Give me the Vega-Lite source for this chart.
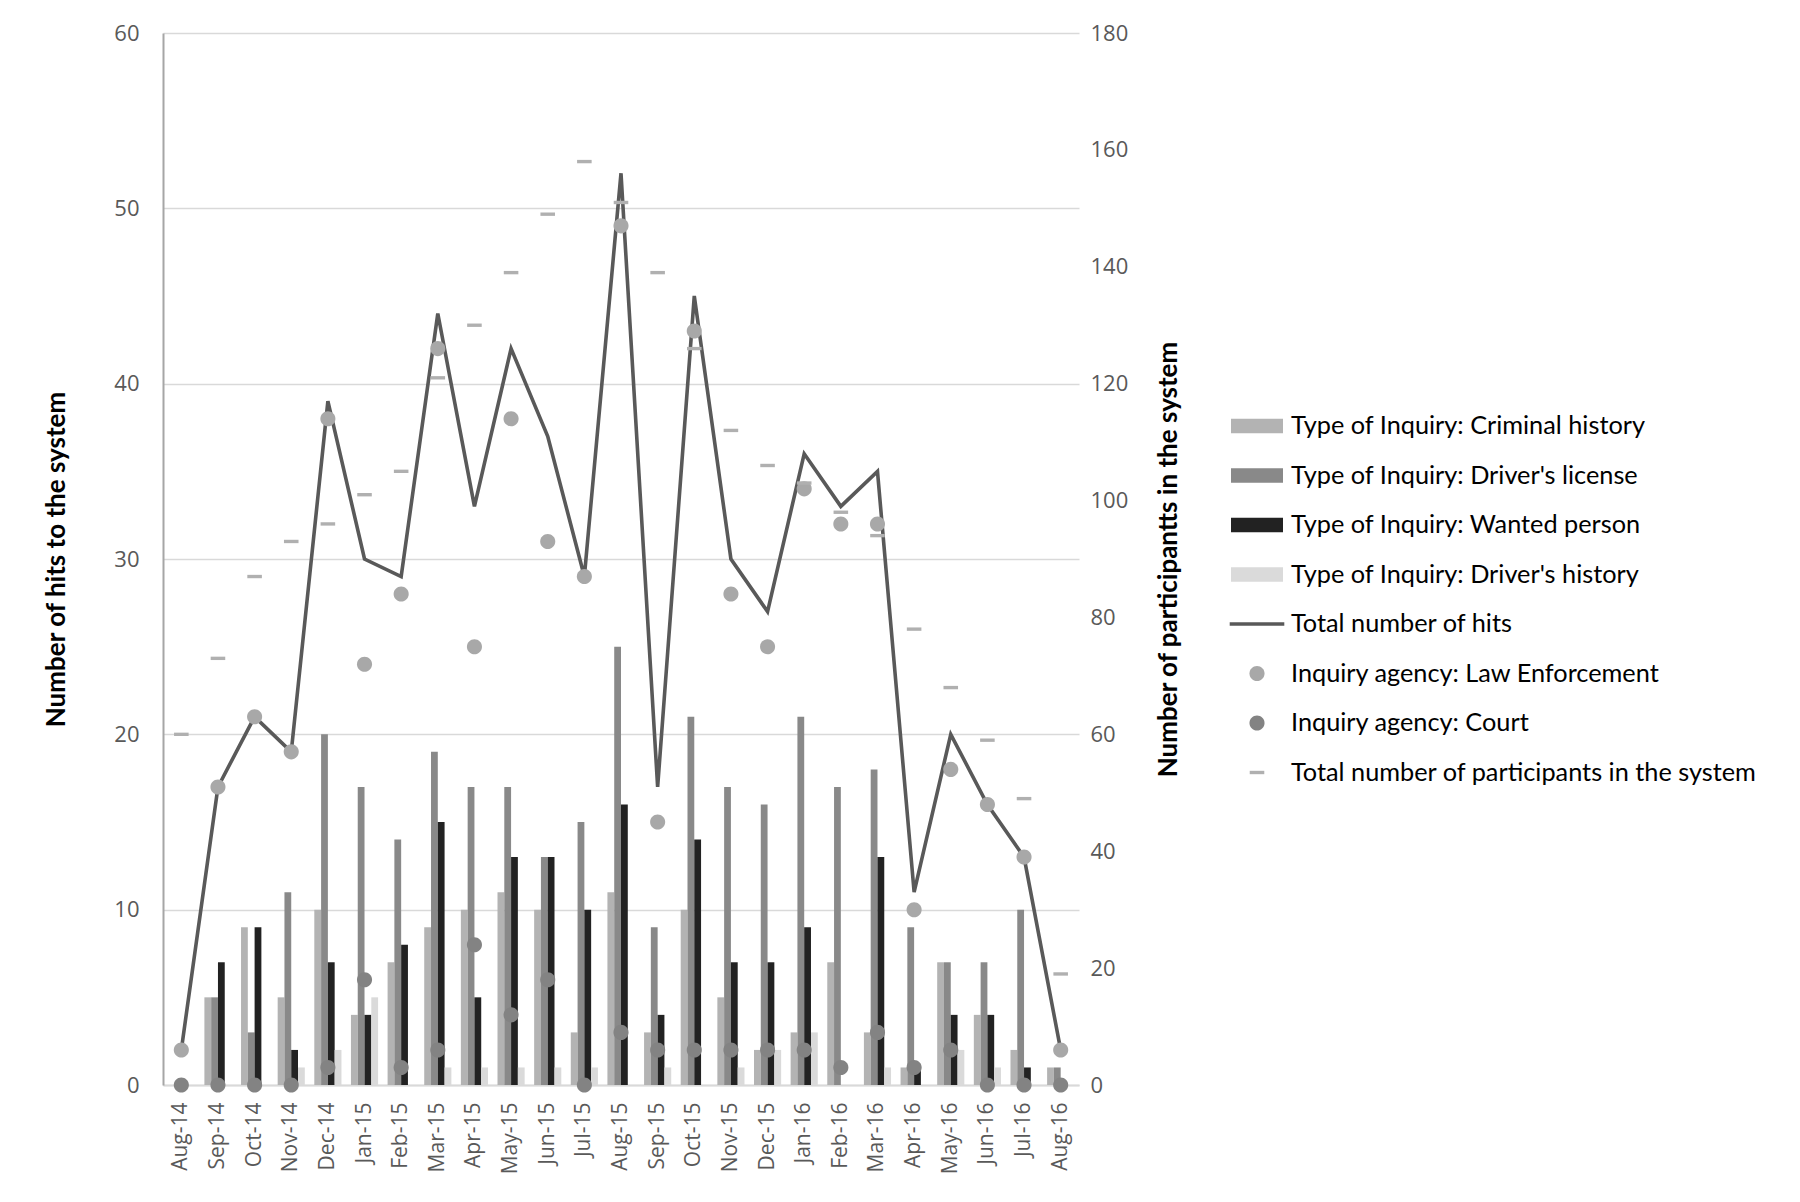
{
  "$schema": "https://vega.github.io/schema/vega-lite/v6.json",
  "autosize": {"type": "none"},
  "width": 916,
  "height": 1052,
  "padding": {"left": 163, "top": 33, "right": 721, "bottom": 117},
  "background": "white",
  "config": {
    "view": {"stroke": null},
    "font": "Open Sans",
    "axis": {"labelFont": "Open Sans", "labelColor": "#595959", "labelFontSize": 22, "titleFont": "Lato", "titleFontWeight": "bold", "titleColor": "#000000", "titleFontSize": 26, "ticks": false}
  },
  "data": {"values": [
    {"month": "Aug-14", "CH": 0, "DL": 0, "WP": 0, "DH": 0, "TH": 2, "LE": 2, "CO": 0, "TP": 60},
    {"month": "Sep-14", "CH": 5, "DL": 5, "WP": 7, "DH": 0, "TH": 17, "LE": 17, "CO": 0, "TP": 73},
    {"month": "Oct-14", "CH": 9, "DL": 3, "WP": 9, "DH": 0, "TH": 21, "LE": 21, "CO": 0, "TP": 87},
    {"month": "Nov-14", "CH": 5, "DL": 11, "WP": 2, "DH": 1, "TH": 19, "LE": 19, "CO": 0, "TP": 93},
    {"month": "Dec-14", "CH": 10, "DL": 20, "WP": 7, "DH": 2, "TH": 39, "LE": 38, "CO": 1, "TP": 96},
    {"month": "Jan-15", "CH": 4, "DL": 17, "WP": 4, "DH": 5, "TH": 30, "LE": 24, "CO": 6, "TP": 101},
    {"month": "Feb-15", "CH": 7, "DL": 14, "WP": 8, "DH": 0, "TH": 29, "LE": 28, "CO": 1, "TP": 105},
    {"month": "Mar-15", "CH": 9, "DL": 19, "WP": 15, "DH": 1, "TH": 44, "LE": 42, "CO": 2, "TP": 121},
    {"month": "Apr-15", "CH": 10, "DL": 17, "WP": 5, "DH": 1, "TH": 33, "LE": 25, "CO": 8, "TP": 130},
    {"month": "May-15", "CH": 11, "DL": 17, "WP": 13, "DH": 1, "TH": 42, "LE": 38, "CO": 4, "TP": 139},
    {"month": "Jun-15", "CH": 10, "DL": 13, "WP": 13, "DH": 1, "TH": 37, "LE": 31, "CO": 6, "TP": 149},
    {"month": "Jul-15", "CH": 3, "DL": 15, "WP": 10, "DH": 1, "TH": 29, "LE": 29, "CO": 0, "TP": 158},
    {"month": "Aug-15", "CH": 11, "DL": 25, "WP": 16, "DH": 0, "TH": 52, "LE": 49, "CO": 3, "TP": 151},
    {"month": "Sep-15", "CH": 3, "DL": 9, "WP": 4, "DH": 1, "TH": 17, "LE": 15, "CO": 2, "TP": 139},
    {"month": "Oct-15", "CH": 10, "DL": 21, "WP": 14, "DH": 0, "TH": 45, "LE": 43, "CO": 2, "TP": 126},
    {"month": "Nov-15", "CH": 5, "DL": 17, "WP": 7, "DH": 1, "TH": 30, "LE": 28, "CO": 2, "TP": 112},
    {"month": "Dec-15", "CH": 2, "DL": 16, "WP": 7, "DH": 2, "TH": 27, "LE": 25, "CO": 2, "TP": 106},
    {"month": "Jan-16", "CH": 3, "DL": 21, "WP": 9, "DH": 3, "TH": 36, "LE": 34, "CO": 2, "TP": 103},
    {"month": "Feb-16", "CH": 7, "DL": 17, "WP": 0, "DH": 0, "TH": 33, "LE": 32, "CO": 1, "TP": 98},
    {"month": "Mar-16", "CH": 3, "DL": 18, "WP": 13, "DH": 1, "TH": 35, "LE": 32, "CO": 3, "TP": 94},
    {"month": "Apr-16", "CH": 1, "DL": 9, "WP": 1, "DH": 0, "TH": 11, "LE": 10, "CO": 1, "TP": 78},
    {"month": "May-16", "CH": 7, "DL": 7, "WP": 4, "DH": 2, "TH": 20, "LE": 18, "CO": 2, "TP": 68},
    {"month": "Jun-16", "CH": 4, "DL": 7, "WP": 4, "DH": 1, "TH": 16, "LE": 16, "CO": 0, "TP": 59},
    {"month": "Jul-16", "CH": 2, "DL": 10, "WP": 1, "DH": 0, "TH": 13, "LE": 13, "CO": 0, "TP": 49},
    {"month": "Aug-16", "CH": 1, "DL": 1, "WP": 0, "DH": 0, "TH": 2, "LE": 2, "CO": 0, "TP": 19}
  ]},
  "transform": [{"fold": ["CH", "DL", "WP", "DH", "TH", "LE", "CO", "TP"], "as": ["series", "value"]}],
  "encoding": {
    "x": {
      "field": "month", "type": "ordinal",
      "sort": ["Aug-14","Sep-14","Oct-14","Nov-14","Dec-14","Jan-15","Feb-15","Mar-15","Apr-15","May-15","Jun-15","Jul-15","Aug-15","Sep-15","Oct-15","Nov-15","Dec-15","Jan-16","Feb-16","Mar-16","Apr-16","May-16","Jun-16","Jul-16","Aug-16"],
      "scale": {"paddingInner": 0, "paddingOuter": 0},
      "axis": {"title": null, "labelAngle": -90, "labelAlign": "right", "labelBaseline": "middle", "labelPadding": 17, "labelFontSize": 21, "domainColor": "#d9d9d9", "domainWidth": 2, "grid": false}
    }
  },
  "layer": [
    {
      "encoding": {
        "y": {"field": "value", "type": "quantitative", "scale": {"domain": [0, 60]},
          "axis": {"orient": "left", "title": "Number of hits to the system", "values": [0, 10, 20, 30, 40, 50, 60], "grid": true, "gridColor": "#d9d9d9", "gridWidth": 1.5, "domain": true, "domainColor": "#a6a6a6", "domainWidth": 2, "labelPadding": 24, "titlePadding": 44}}
      },
      "layer": [
        {
          "transform": [{"filter": "indexof(['CH','DL','WP','DH'], datum.series) >= 0"}],
          "mark": {"type": "bar", "opacity": 1},
          "encoding": {
            "xOffset": {"field": "series", "type": "nominal", "scale": {"domain": ["CH", "DL", "WP", "DH"], "paddingInner": 0, "paddingOuter": 0.7}},
            "color": {"field": "series", "type": "nominal",
              "scale": {"domain": ["CH", "DL", "WP", "DH", "TH", "LE", "CO", "TP"], "range": ["#b3b3b3", "#898989", "#222222", "#dadada", "#595959", "#a8a8a8", "#838383", "#b0b0b0"]},
              "legend": {"title": null, "orient": "none", "legendX": 1068, "legendY": 367, "padding": 0, "symbolSize": 2704, "labelFont": "Lato", "labelFontSize": 25.3, "labelColor": "#000000", "labelOffset": 8, "labelLimit": 700, "rowPadding": 9.5, "symbolStrokeWidth": 0, "symbolOpacity": 1,
                "labelExpr": "{'CH':'Type of Inquiry: Criminal history','DL':\"Type of Inquiry: Driver's license\",'WP':'Type of Inquiry: Wanted person','DH':\"Type of Inquiry: Driver's history\",'TH':'Total number of hits','LE':'Inquiry agency: Law Enforcement','CO':'Inquiry agency: Court','TP':'Total number of participants in the system'}[datum.value]",
                "encode": {"symbols": {"update": {"shape": {"scale": "shape", "field": "value"}, "fill": {"scale": "color", "field": "value"}, "stroke": {"value": "transparent"}, "opacity": {"value": 1}}}}}
            }
          }
        },
        {
          "transform": [{"filter": "datum.series === 'TH'"}],
          "mark": {"type": "line", "strokeWidth": 3.6, "opacity": 1},
          "encoding": {
            "color": {"field": "series", "type": "nominal"}
          }
        },
        {
          "transform": [{"filter": "datum.series === 'LE' || datum.series === 'CO'"}],
          "mark": {"type": "point", "filled": true, "size": 2704, "opacity": 1, "strokeWidth": 0},
          "encoding": {
            "color": {"field": "series", "type": "nominal"},
            "shape": {"field": "series", "type": "nominal",
              "scale": {"domain": ["CH", "DL", "WP", "DH", "TH", "LE", "CO", "TP"],
                "range": ["M-1,-0.28H1V0.28H-1Z", "M-1,-0.28H1V0.28H-1Z", "M-1,-0.28H1V0.28H-1Z", "M-1,-0.28H1V0.28H-1Z", "M-1.05,-0.07H1.05V0.07H-1.05Z", "M-0.29,0A0.29,0.29,0,1,0,0.29,0A0.29,0.29,0,1,0,-0.29,0Z", "M-0.29,0A0.29,0.29,0,1,0,0.29,0A0.29,0.29,0,1,0,-0.29,0Z", "M-0.28,-0.065H0.28V0.065H-0.28Z"]}}
          }
        }
      ]
    },
    {
      "transform": [{"filter": "datum.series === 'TP'"}],
      "mark": {"type": "point", "filled": true, "size": 2704, "opacity": 1, "strokeWidth": 0},
      "encoding": {
        "y": {"field": "value", "type": "quantitative", "scale": {"domain": [0, 180]},
          "axis": {"orient": "right", "title": "Number of participantts in the system", "values": [0, 20, 40, 60, 80, 100, 120, 140, 160, 180], "grid": false, "domain": false, "labelPadding": 11, "titleAngle": -90, "titlePadding": 54}},
        "color": {"field": "series", "type": "nominal"},
        "shape": {"field": "series", "type": "nominal"}
      }
    }
  ],
  "resolve": {"scale": {"y": "independent"}}
}
